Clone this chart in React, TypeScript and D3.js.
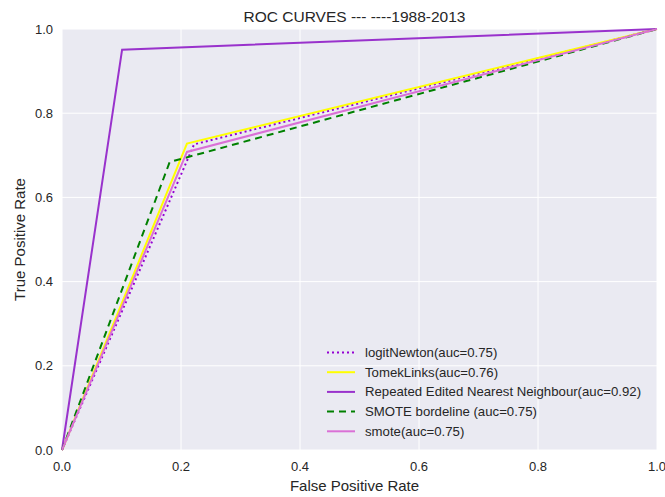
import React from "react";
import * as d3 from "d3";

const seriesNames = [
  "logitNewton(auc=0.75)",
  "TomekLinks(auc=0.76)",
  "Repeated Edited Nearest Neighbour(auc=0.92)",
  "SMOTE bordeline (auc=0.75)",
  "smote(auc=0.75)",
];
const fprValues: number[][] = [
  [0, 0.222, 1],
  [0, 0.21, 1],
  [0, 0.101, 1],
  [0, 0.181, 1],
  [0, 0.21, 1],
];
const tprValues: number[][] = [
  [0, 0.726, 1],
  [0, 0.728, 1],
  [0, 0.951, 1],
  [0, 0.684, 1],
  [0, 0.708, 1],
];
const seriesColors = ["#9400D3", "#FFFF00", "#9932CC", "#008000", "#DA70D6"];
const seriesDash = ["2,3", null, null, "7,5", null];
const ticks = [0, 0.2, 0.4, 0.6, 0.8, 1.0];

export default function App() {
  const W = 665, H = 497;
  const L = 62, R = 657, T = 29, B = 450;
  const x = d3.scaleLinear().domain([0, 1]).range([L, R]);
  const y = d3.scaleLinear().domain([0, 1]).range([B, T]);
  const line = d3.line<[number, number]>().x((d) => x(d[0])).y((d) => y(d[1]));
  const font = "'Liberation Sans', Arial, sans-serif";
  const txt = "#262626";
  const order = [0, 1, 2, 3, 4];
  return (
    <svg width={W} height={H} style={{ position: "absolute", left: 0, top: 0 }} fontFamily={font}>
      <rect x={L} y={T} width={R - L} height={B - T} fill="#EAEAF2" />
      {ticks.map((t) => (
        <g key={"g" + t}>
          <line x1={x(t)} x2={x(t)} y1={T} y2={B} stroke="#fff" strokeWidth={1} />
          <line x1={L} x2={R} y1={y(t)} y2={y(t)} stroke="#fff" strokeWidth={1} />
        </g>
      ))}
      <defs>
        <clipPath id="clip">
          <rect x={L - 2} y={T - 2} width={R - L + 4} height={B - T + 4} />
        </clipPath>
      </defs>
      <g clipPath="url(#clip)">
        {order.map((i) => (
          <path
            key={i}
            d={line(fprValues[i].map((v, j) => [v, tprValues[i][j]]) as [number, number][]) || ""}
            fill="none"
            stroke={seriesColors[i]}
            strokeWidth={2}
            strokeDasharray={seriesDash[i] || undefined}
          />
        ))}
      </g>
      {ticks.map((t) => (
        <text key={"xt" + t} x={x(t)} y={B + 21} textAnchor="middle" fontSize={13} fill={txt}>
          {t.toFixed(1)}
        </text>
      ))}
      {ticks.map((t) => (
        <text key={"yt" + t} x={L - 9} y={y(t) + 4.5} textAnchor="end" fontSize={13} fill={txt}>
          {t.toFixed(1)}
        </text>
      ))}
      <text x={(L + R) / 2 - 5} y={22} textAnchor="middle" fontSize={15.5} fill={txt}>
        ROC CURVES --- ----1988-2013
      </text>
      <text x={(L + R) / 2 - 5} y={491} textAnchor="middle" fontSize={15} fill={txt}>
        False Positive Rate
      </text>
      <text
        transform={`translate(25,${(T + B) / 2}) rotate(-90)`}
        textAnchor="middle"
        fontSize={15}
        fill={txt}
      >
        True Positive Rate
      </text>
      {seriesNames.map((name, i) => {
        const ly = 352.5 + i * 19.7;
        return (
          <g key={"lg" + i}>
            <line
              x1={327}
              x2={355}
              y1={ly}
              y2={ly}
              stroke={seriesColors[i]}
              strokeWidth={2}
              strokeDasharray={seriesDash[i] || undefined}
            />
            <text x={365} y={ly + 4.5} fontSize={13.2} fill={txt}>
              {name}
            </text>
          </g>
        );
      })}
    </svg>
  );
}
